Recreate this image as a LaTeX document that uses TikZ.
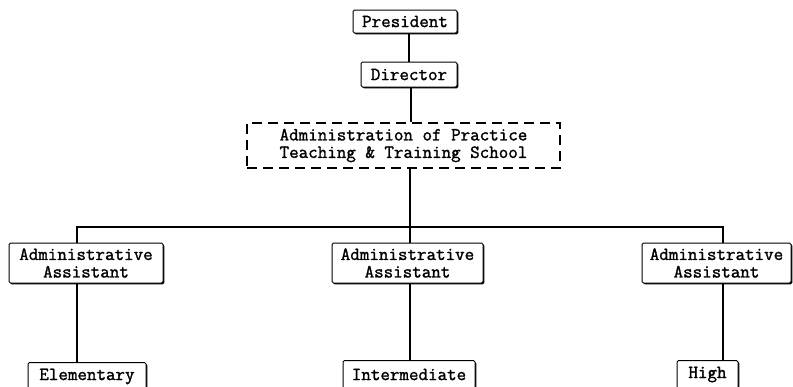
\documentclass[tikz,border=0pt]{standalone}
\usepackage{fontspec}
\newfontfamily\tw{Latin Modern Mono}[FakeBold=1.5]
\usetikzlibrary{shadows}
\tikzset{
  bx/.style={draw, line width=1pt, rounded corners=1.5pt, fill=white, inner sep=0pt,
    align=center, font=\tw\fontsize{18.5}{17.5}\selectfont,
    drop shadow={shadow xshift=1.3pt, shadow yshift=-1.3pt, opacity=1, fill=black}},
  dbx/.style={draw, line width=1.3pt, dash pattern=on 10pt off 6pt, inner sep=0pt,
    align=center, font=\tw\fontsize{18.5}{17.5}\selectfont},
  ln/.style={line width=1.4pt}
}
\begin{document}
\begin{tikzpicture}[x=1pt,y=-1pt]
\useasboundingbox (0,0) rectangle (793,386);
\clip (0,0) rectangle (793,386);
\node[bx, minimum width=104pt, minimum height=23pt] (pres) at (405,21.5) {President};
\node[bx, minimum width=96pt, minimum height=25pt] (dir) at (409,74.5) {Director};
\node[dbx, minimum width=313pt, minimum height=45pt] (adm) at (403.5,145.5) {Administration of Practice\\Teaching \& Training School};
\node[bx, minimum width=154pt, minimum height=40pt] (a1) at (86,263) {Administrative\\Assistant};
\node[bx, minimum width=151pt, minimum height=40pt] (a2) at (407.5,263) {Administrative\\Assistant};
\node[bx, minimum width=149pt, minimum height=40pt] (a3) at (716.5,263) {Administrative\\Assistant};
\node[bx, minimum width=118pt, minimum height=28pt] (e) at (87,376.5) {Elementary};
\node[bx, minimum width=132pt, minimum height=28pt] (m) at (409,374.5) {Intermediate};
\node[bx, minimum width=61pt, minimum height=28pt] (h) at (707.5,374.5) {High};
\coordinate (L) at (77,227);
\coordinate (M) at (410,227);
\coordinate (R) at (723,227);
\draw[ln] (pres.south -| 409,0) -- (dir.north -| 409,0);
\draw[ln] (dir.south -| 411,0) -- (adm.north -| 411,0);
\draw[ln] (adm.south -| M) -- (M);
\draw[ln] (L |- a1.north) -- (L) -- (R) -- (R |- a3.north);
\draw[ln] (M) -- (M |- a2.north);
\draw[ln] (a1.south -| L) -- (e.north -| L);
\draw[ln] (a2.south -| M) -- (m.north -| M);
\draw[ln] (a3.south -| R) -- (h.north -| R);
\end{tikzpicture}
\end{document}
